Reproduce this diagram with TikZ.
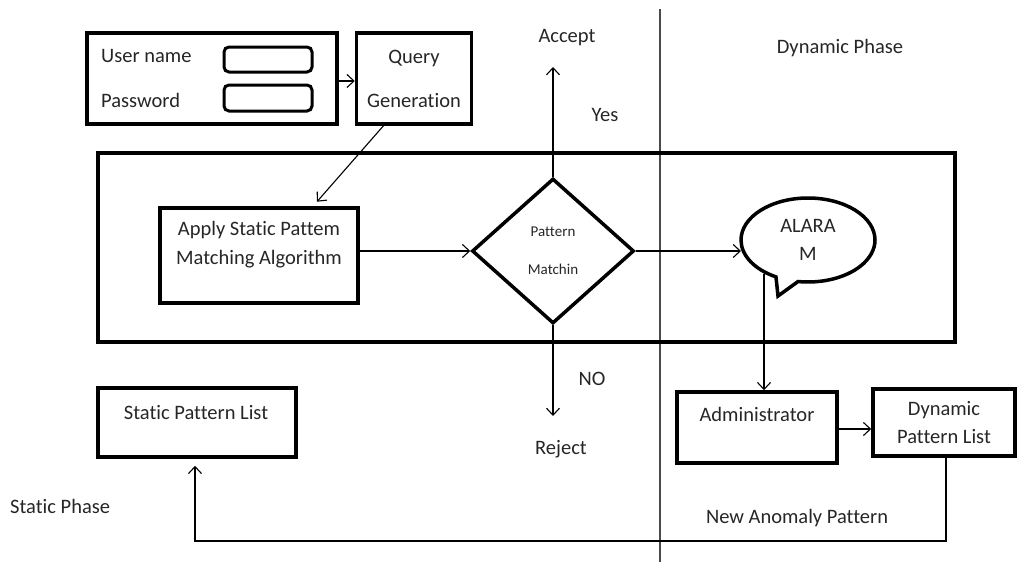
\documentclass[tikz,border=0pt]{standalone}
\usepackage{fontspec}
\setmainfont{Carlito}[Ligatures=NoCommon]
\usetikzlibrary{arrows.meta,shapes.geometric,shapes.callouts}
\definecolor{ink}{HTML}{262626}
\definecolor{divgray}{HTML}{4A4A4A}
\tikzset{
  thickbox/.style={draw=black,line width=3.5pt,rectangle,inner sep=0pt},
  field/.style={draw=black,line width=3pt,rounded corners=5pt,rectangle,inner sep=0pt},
  txt/.style={text=ink,font=\fontsize{20.5}{24}\selectfont,inner sep=0pt},
  smalltxt/.style={text=ink,font=\fontsize{15}{18}\selectfont,inner sep=0pt},
  arr/.style={draw=black,line width=1.1pt,-{Straight Barb[length=7pt,width=13pt,line width=1.1pt]}},
  plain/.style={draw=black!80,line width=1.3pt}
}
\begin{document}
\begin{tikzpicture}[x=1pt,y=-1pt]
\useasboundingbox (0,0) rectangle (1026,562);
% divider
\draw[draw=divgray,line width=1.6pt] (660,9) -- (660,562);
% login box
\node[thickbox,minimum width=250pt,minimum height=91pt] (login) at (212,78.5) {};
\node[txt,anchor=west] (user) at (101,56) {User name};
\node[txt,anchor=west] (pass) at (101,100) {Password};
\node[field,minimum width=88pt,minimum height=25pt] (field1) at (268,59.5) {};
\node[field,minimum width=88pt,minimum height=26pt] (field2) at (268,98) {};
% query
\node[thickbox,minimum width=115pt,minimum height=91pt,txt,align=center] (query) at (414,78.5) {Query\\[20pt]Generation};
\draw[arr] (login.east |- 0,81) -- (query.west |- 0,81);
% big rectangle
\node[thickbox,minimum width=857pt,minimum height=189pt] (big) at (526.5,247.5) {};
% apply
\node[thickbox,minimum width=198pt,minimum height=95pt] (apply) at (259,255.5) {};
\node[txt,align=center] (applytext) at (259,245) {Apply Static Pattem\\[5pt]Matching Algorithm};
\coordinate (qfoot) at (385,124);
\draw[arr,shorten >=6pt] (qfoot) -- (apply.north -| 313,0);
% diamond
\node[diamond,draw=black,line width=3.5pt,minimum width=162pt,minimum height=145pt,inner sep=0pt,smalltxt,align=center] (dia) at (553,251) {Pattern\\[20pt]Matchin};
\draw[arr] (apply.east |- dia.west) -- (dia.west);
% accept
\node[txt] (accept) at (567,38) {Accept};
\coordinate (acctip) at (553,67);
\draw[arr] (dia.north) -- (acctip);
\node[txt] (yes) at (605,115) {Yes};
% reject
\coordinate (rejtip) at (553,416);
\draw[arr] (dia.south) -- (rejtip);
\node[txt] (no) at (592,379) {NO};
\node[txt] (reject) at (561,449) {Reject};
% callout
\node[ellipse callout,draw=black,line width=3.5pt,minimum width=134pt,minimum height=84pt,inner sep=0pt,callout absolute pointer={(778,296)},callout pointer arc=20,txt,align=center] (alaram) at (808,240) {ALARA\\[4pt]M};
\draw[arr] (dia.east) -- (dia.east -| 741,0);
% administrator
\node[thickbox,minimum width=160pt,minimum height=71pt] (admin) at (757,427.5) {};
\node[txt] (admintext) at (757,414) {Administrator};
\coordinate (alfoot) at (764,274);
\draw[arr] (alfoot) -- (alfoot |- admin.north);
% dynamic pattern list
\node[thickbox,minimum width=142pt,minimum height=67pt,txt,align=center] (dyn) at (944,422.5) {Dynamic\\[4pt]Pattern List};
\draw[arr] (admin.east |- 0,429) -- (dyn.west |- 0,429);
% static pattern list
\node[thickbox,minimum width=198pt,minimum height=69pt] (static) at (197,422.5) {};
\node[txt] (statictext) at (196,413) {Static Pattern List};
% return path
\coordinate (corner1) at (946,541);
\coordinate (corner2) at (195,541);
\draw[arr,shorten >=7pt] (dyn.south -| corner1) -- (corner1) -- (corner2) -- (static.south -| corner2);
% phase labels
\node[txt,anchor=west] (staticphase) at (10,506) {Static Phase};
\node[txt] (anomaly) at (797,518) {New Anomaly Pattern};
\node[txt] (dynphase) at (840,48) {Dynamic Phase};
\end{tikzpicture}
\end{document}
